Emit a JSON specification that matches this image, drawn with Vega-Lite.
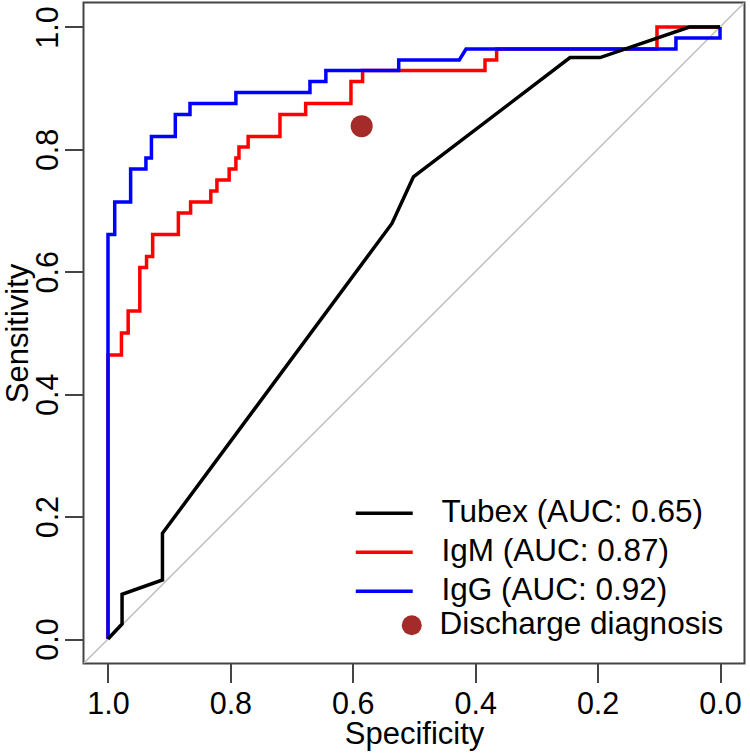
{
  "$schema": "https://vega.github.io/schema/vega-lite/v6.json",
  "width": 661,
  "height": 661,
  "autosize": {"type": "none"},
  "padding": {"left": 83.5, "top": 2.5, "right": 5.5, "bottom": 90.5},
  "background": "white",
  "config": {
    "view": {"stroke": "#444444", "strokeWidth": 2},
    "axis": {
      "domain": false, "grid": false, "ticks": true,
      "tickColor": "#444444", "tickWidth": 2, "tickSize": 19,
      "labelFont": "Liberation Sans", "labelFontSize": 30.5, "labelColor": "black",
      "titleFont": "Liberation Sans", "titleFontSize": 31, "titleFontWeight": "normal", "titleColor": "black",
      "labelFlush": false, "labelOverlap": false
    },
    "legend": {
      "orient": "none",
      "labelFont": "Liberation Sans", "labelFontSize": 31.5, "labelColor": "black",
      "labelLimit": 600, "rowPadding": 6, "padding": 0, "symbolOffset": 0
    }
  },
  "datasets": {
    "curves": [
      {"test": "Tubex (AUC: 0.65)", "k": 1, "spec": 1.0, "sens": 0.0},
      {"test": "Tubex (AUC: 0.65)", "k": 2, "spec": 0.977, "sens": 0.0245},
      {"test": "Tubex (AUC: 0.65)", "k": 3, "spec": 0.977, "sens": 0.073},
      {"test": "Tubex (AUC: 0.65)", "k": 4, "spec": 0.911, "sens": 0.0964},
      {"test": "Tubex (AUC: 0.65)", "k": 5, "spec": 0.911, "sens": 0.1727},
      {"test": "Tubex (AUC: 0.65)", "k": 6, "spec": 0.536, "sens": 0.679},
      {"test": "Tubex (AUC: 0.65)", "k": 7, "spec": 0.501, "sens": 0.755},
      {"test": "Tubex (AUC: 0.65)", "k": 8, "spec": 0.245, "sens": 0.95},
      {"test": "Tubex (AUC: 0.65)", "k": 9, "spec": 0.196, "sens": 0.95},
      {"test": "Tubex (AUC: 0.65)", "k": 10, "spec": 0.05, "sens": 1.0},
      {"test": "Tubex (AUC: 0.65)", "k": 11, "spec": 0.0, "sens": 1.0},
      {"test": "IgM (AUC: 0.87)", "k": 1, "spec": 1.0, "sens": 0.0},
      {"test": "IgM (AUC: 0.87)", "k": 2, "spec": 1.0, "sens": 0.464},
      {"test": "IgM (AUC: 0.87)", "k": 3, "spec": 0.978, "sens": 0.464},
      {"test": "IgM (AUC: 0.87)", "k": 4, "spec": 0.978, "sens": 0.5},
      {"test": "IgM (AUC: 0.87)", "k": 5, "spec": 0.967, "sens": 0.5},
      {"test": "IgM (AUC: 0.87)", "k": 6, "spec": 0.967, "sens": 0.536},
      {"test": "IgM (AUC: 0.87)", "k": 7, "spec": 0.948, "sens": 0.536},
      {"test": "IgM (AUC: 0.87)", "k": 8, "spec": 0.948, "sens": 0.607},
      {"test": "IgM (AUC: 0.87)", "k": 9, "spec": 0.937, "sens": 0.607},
      {"test": "IgM (AUC: 0.87)", "k": 10, "spec": 0.937, "sens": 0.625},
      {"test": "IgM (AUC: 0.87)", "k": 11, "spec": 0.927, "sens": 0.625},
      {"test": "IgM (AUC: 0.87)", "k": 12, "spec": 0.927, "sens": 0.661},
      {"test": "IgM (AUC: 0.87)", "k": 13, "spec": 0.885, "sens": 0.661},
      {"test": "IgM (AUC: 0.87)", "k": 14, "spec": 0.885, "sens": 0.696},
      {"test": "IgM (AUC: 0.87)", "k": 15, "spec": 0.865, "sens": 0.696},
      {"test": "IgM (AUC: 0.87)", "k": 16, "spec": 0.865, "sens": 0.714},
      {"test": "IgM (AUC: 0.87)", "k": 17, "spec": 0.832, "sens": 0.714},
      {"test": "IgM (AUC: 0.87)", "k": 18, "spec": 0.832, "sens": 0.732},
      {"test": "IgM (AUC: 0.87)", "k": 19, "spec": 0.822, "sens": 0.732},
      {"test": "IgM (AUC: 0.87)", "k": 20, "spec": 0.822, "sens": 0.75},
      {"test": "IgM (AUC: 0.87)", "k": 21, "spec": 0.802, "sens": 0.75},
      {"test": "IgM (AUC: 0.87)", "k": 22, "spec": 0.802, "sens": 0.768},
      {"test": "IgM (AUC: 0.87)", "k": 23, "spec": 0.791, "sens": 0.768},
      {"test": "IgM (AUC: 0.87)", "k": 24, "spec": 0.791, "sens": 0.786},
      {"test": "IgM (AUC: 0.87)", "k": 25, "spec": 0.786, "sens": 0.786},
      {"test": "IgM (AUC: 0.87)", "k": 26, "spec": 0.786, "sens": 0.804},
      {"test": "IgM (AUC: 0.87)", "k": 27, "spec": 0.771, "sens": 0.804},
      {"test": "IgM (AUC: 0.87)", "k": 28, "spec": 0.771, "sens": 0.821},
      {"test": "IgM (AUC: 0.87)", "k": 29, "spec": 0.719, "sens": 0.821},
      {"test": "IgM (AUC: 0.87)", "k": 30, "spec": 0.719, "sens": 0.857},
      {"test": "IgM (AUC: 0.87)", "k": 31, "spec": 0.677, "sens": 0.857},
      {"test": "IgM (AUC: 0.87)", "k": 32, "spec": 0.677, "sens": 0.875},
      {"test": "IgM (AUC: 0.87)", "k": 33, "spec": 0.603, "sens": 0.875},
      {"test": "IgM (AUC: 0.87)", "k": 34, "spec": 0.603, "sens": 0.911},
      {"test": "IgM (AUC: 0.87)", "k": 35, "spec": 0.584, "sens": 0.911},
      {"test": "IgM (AUC: 0.87)", "k": 36, "spec": 0.584, "sens": 0.929},
      {"test": "IgM (AUC: 0.87)", "k": 37, "spec": 0.384, "sens": 0.929},
      {"test": "IgM (AUC: 0.87)", "k": 38, "spec": 0.384, "sens": 0.946},
      {"test": "IgM (AUC: 0.87)", "k": 39, "spec": 0.365, "sens": 0.946},
      {"test": "IgM (AUC: 0.87)", "k": 40, "spec": 0.365, "sens": 0.964},
      {"test": "IgM (AUC: 0.87)", "k": 41, "spec": 0.103, "sens": 0.964},
      {"test": "IgM (AUC: 0.87)", "k": 42, "spec": 0.103, "sens": 1.0},
      {"test": "IgM (AUC: 0.87)", "k": 43, "spec": 0.0, "sens": 1.0},
      {"test": "IgG (AUC: 0.92)", "k": 1, "spec": 1.0, "sens": 0.0},
      {"test": "IgG (AUC: 0.92)", "k": 2, "spec": 1.0, "sens": 0.661},
      {"test": "IgG (AUC: 0.92)", "k": 3, "spec": 0.989, "sens": 0.661},
      {"test": "IgG (AUC: 0.92)", "k": 4, "spec": 0.989, "sens": 0.714},
      {"test": "IgG (AUC: 0.92)", "k": 5, "spec": 0.963, "sens": 0.714},
      {"test": "IgG (AUC: 0.92)", "k": 6, "spec": 0.963, "sens": 0.768},
      {"test": "IgG (AUC: 0.92)", "k": 7, "spec": 0.938, "sens": 0.768},
      {"test": "IgG (AUC: 0.92)", "k": 8, "spec": 0.938, "sens": 0.786},
      {"test": "IgG (AUC: 0.92)", "k": 9, "spec": 0.929, "sens": 0.786},
      {"test": "IgG (AUC: 0.92)", "k": 10, "spec": 0.929, "sens": 0.821},
      {"test": "IgG (AUC: 0.92)", "k": 11, "spec": 0.89, "sens": 0.821},
      {"test": "IgG (AUC: 0.92)", "k": 12, "spec": 0.89, "sens": 0.857},
      {"test": "IgG (AUC: 0.92)", "k": 13, "spec": 0.866, "sens": 0.857},
      {"test": "IgG (AUC: 0.92)", "k": 14, "spec": 0.866, "sens": 0.875},
      {"test": "IgG (AUC: 0.92)", "k": 15, "spec": 0.791, "sens": 0.875},
      {"test": "IgG (AUC: 0.92)", "k": 16, "spec": 0.791, "sens": 0.893},
      {"test": "IgG (AUC: 0.92)", "k": 17, "spec": 0.67, "sens": 0.893},
      {"test": "IgG (AUC: 0.92)", "k": 18, "spec": 0.67, "sens": 0.911},
      {"test": "IgG (AUC: 0.92)", "k": 19, "spec": 0.644, "sens": 0.911},
      {"test": "IgG (AUC: 0.92)", "k": 20, "spec": 0.644, "sens": 0.929},
      {"test": "IgG (AUC: 0.92)", "k": 21, "spec": 0.525, "sens": 0.929},
      {"test": "IgG (AUC: 0.92)", "k": 22, "spec": 0.525, "sens": 0.946},
      {"test": "IgG (AUC: 0.92)", "k": 23, "spec": 0.426, "sens": 0.946},
      {"test": "IgG (AUC: 0.92)", "k": 24, "spec": 0.415, "sens": 0.964},
      {"test": "IgG (AUC: 0.92)", "k": 25, "spec": 0.072, "sens": 0.964},
      {"test": "IgG (AUC: 0.92)", "k": 26, "spec": 0.072, "sens": 0.982},
      {"test": "IgG (AUC: 0.92)", "k": 27, "spec": 0.0, "sens": 0.982},
      {"test": "IgG (AUC: 0.92)", "k": 28, "spec": 0.0, "sens": 1.0}
    ],
    "diag": [
      {"spec": 1.04, "sens": -0.04},
      {"spec": -0.04, "sens": 1.04}
    ],
    "point": [
      {"test": "Discharge diagnosis", "spec": 0.5855, "sens": 0.838}
    ]
  },
  "encoding": {
    "x": {
      "field": "spec", "type": "quantitative",
      "scale": {"domain": [-0.04, 1.04], "reverse": true, "nice": false, "zero": false},
      "axis": {
        "values": [0, 0.2, 0.4, 0.6, 0.8, 1.0], "format": ".1f", "labelPadding": 6.5,
        "title": "Specificity", "titleX": 330.5, "titleY": 79.5,
        "titleBaseline": "alphabetic", "titleAlign": "center"
      }
    },
    "y": {
      "field": "sens", "type": "quantitative",
      "scale": {"domain": [-0.04, 1.04], "nice": false, "zero": false},
      "axis": {
        "values": [0, 0.2, 0.4, 0.6, 0.8, 1.0], "format": ".1f",
        "labelAngle": -90, "labelAlign": "center", "labelBaseline": "alphabetic", "labelPadding": 7.5,
        "title": "Sensitivity", "titleAngle": -90, "titleX": -56, "titleY": 330.5,
        "titleBaseline": "alphabetic", "titleAlign": "center"
      }
    }
  },
  "layer": [
    {
      "data": {"name": "diag"},
      "mark": {"type": "line", "color": "#BEBEBE", "strokeWidth": 1.5, "clip": true},
      "encoding": {}
    },
    {
      "data": {"name": "curves"},
      "transform": [{"filter": "datum.test === 'IgM (AUC: 0.87)'"}],
      "mark": {"type": "line", "strokeWidth": 3.5, "clip": true},
      "encoding": {
        "order": {"field": "k", "type": "quantitative"},
        "color": {
          "field": "test", "type": "nominal",
          "scale": {
            "domain": ["Tubex (AUC: 0.65)", "IgM (AUC: 0.87)", "IgG (AUC: 0.92)"],
            "range": ["#000000", "#FF0000", "#0000FF"]
          },
          "legend": {
            "title": null, "legendX": 285, "legendY": 495,
            "symbolType": "M-3.35,0H3.35", "symbolSize": 289, "symbolStrokeWidth": 3.5,
            "labelOffset": 41.5
          }
        }
      }
    },
    {
      "data": {"name": "curves"},
      "transform": [{"filter": "datum.test === 'IgG (AUC: 0.92)'"}],
      "mark": {"type": "line", "strokeWidth": 3.5, "clip": true},
      "encoding": {
        "order": {"field": "k", "type": "quantitative"},
        "color": {"field": "test", "type": "nominal"}
      }
    },
    {
      "data": {"name": "curves"},
      "transform": [{"filter": "datum.test === 'Tubex (AUC: 0.65)'"}],
      "mark": {"type": "line", "strokeWidth": 3.5, "clip": true},
      "encoding": {
        "order": {"field": "k", "type": "quantitative"},
        "color": {"field": "test", "type": "nominal"}
      }
    },
    {
      "data": {"name": "point"},
      "mark": {"type": "point", "filled": true, "opacity": 1, "size": 484, "strokeWidth": 0, "color": "#A52A2A"},
      "encoding": {
        "shape": {
          "field": "test", "type": "nominal",
          "scale": {"domain": ["Discharge diagnosis"], "range": ["circle"]},
          "legend": {
            "title": null, "legendX": 312.5, "legendY": 607,
            "symbolSize": 400, "symbolStrokeWidth": 0, "symbolFillColor": "#A52A2A",
            "symbolOpacity": 1, "labelOffset": 12
          }
        }
      }
    }
  ]
}
